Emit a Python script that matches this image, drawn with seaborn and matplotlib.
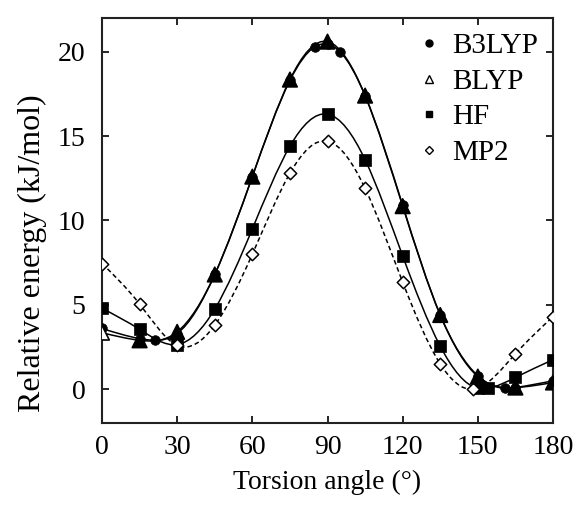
import numpy as np
import pandas as pd
import matplotlib
matplotlib.use("Agg")
import matplotlib.pyplot as plt
from matplotlib.path import Path
from matplotlib.patches import PathPatch
from matplotlib.lines import Line2D
import seaborn as sns

# ---- data ----
b3lyp_x = [0, 15, 21, 30, 45, 60, 75, 85, 90, 95, 105, 120, 135, 150, 161, 165, 180]
b3lyp_y = [3.6, 3.0, 2.9, 3.3, 6.8, 12.6, 18.3, 20.3, 20.45, 20.0, 17.4, 10.9, 4.4, 0.8, 0.05, 0.1, 0.5]

blyp_x = [0, 15, 30, 45, 60, 75, 90, 105, 120, 135, 150, 165, 180]
blyp_y = [3.35, 2.9, 3.4, 6.8, 12.6, 18.35, 20.6, 17.4, 10.85, 4.4, 0.75, 0.1, 0.4]

hf_x = [0, 15, 30, 45, 60, 75, 90, 105, 120, 135, 150, 154, 165, 180]
hf_y = [4.8, 3.55, 2.65, 4.75, 9.5, 14.4, 16.3, 13.6, 7.9, 2.55, 0.05, 0.05, 0.7, 1.75]

mp2_x = [0, 15, 30, 45, 60, 75, 90, 105, 120, 135, 148, 165, 180]
mp2_y = [7.45, 5.05, 2.6, 3.8, 8.0, 12.8, 14.7, 11.9, 6.35, 1.5, 0.0, 2.1, 4.3]

x_ticks = [0, 30, 60, 90, 120, 150, 180]
y_ticks = [0, 5, 10, 15, 20]
labels = ["B3LYP", "BLYP", "HF", "MP2"]

sns.set_theme(style="ticks")
plt.rcParams["font.family"] = ["Liberation Serif", "DejaVu Serif"]
for k in ["text.color", "axes.labelcolor", "xtick.color", "ytick.color", "axes.edgecolor"]:
    plt.rcParams[k] = "black"


def spline_path(xs, ys):
    """Natural cubic spline through the points, as Bezier segments (rendering only)."""
    x = np.asarray(xs, float)
    y = np.asarray(ys, float)
    n = len(x)
    h = np.diff(x)
    A = np.zeros((n, n))
    r = np.zeros(n)
    A[0, 0] = 1
    A[-1, -1] = 1
    for i in range(1, n - 1):
        A[i, i - 1] = h[i - 1]
        A[i, i] = 2 * (h[i - 1] + h[i])
        A[i, i + 1] = h[i]
        r[i] = 6 * ((y[i + 1] - y[i]) / h[i] - (y[i] - y[i - 1]) / h[i - 1])
    M = np.linalg.solve(A, r)
    m = np.zeros(n)
    for i in range(n - 1):
        m[i] = (y[i + 1] - y[i]) / h[i] - h[i] * (2 * M[i] + M[i + 1]) / 6
    m[-1] = (y[-1] - y[-2]) / h[-1] + h[-1] * (M[-2] + 2 * M[-1]) / 6
    verts = [(x[0], y[0])]
    codes = [Path.MOVETO]
    for i in range(n - 1):
        d = h[i] / 3
        verts += [(x[i] + d, y[i] + d * m[i]),
                  (x[i + 1] - d, y[i + 1] - d * m[i + 1]),
                  (x[i + 1], y[i + 1])]
        codes += [Path.CURVE4] * 3
    return Path(verts, codes)


fig = plt.figure(figsize=(5.77, 5.07), dpi=100)
ax = fig.add_axes([0.1768, 0.1657, 0.7816, 0.7988])

curves = [
    (b3lyp_x, b3lyp_y, "-"),
    (blyp_x, blyp_y, "-"),
    (hf_x, hf_y, "-"),
    (mp2_x, mp2_y, (0, (3, 2))),
]
for xs, ys, ls in curves:
    ax.add_patch(PathPatch(spline_path(xs, ys), facecolor="none", edgecolor="black",
                           lw=1.1, linestyle=ls, zorder=2))

df_b3 = pd.DataFrame({"x": b3lyp_x, "y": b3lyp_y})
df_bl = pd.DataFrame({"x": blyp_x, "y": blyp_y})
df_hf = pd.DataFrame({"x": hf_x, "y": hf_y})
df_mp = pd.DataFrame({"x": mp2_x, "y": mp2_y})

# open BLYP triangles look filled where a B3LYP dot sits inside them
b3_lookup = dict(zip(b3lyp_x, b3lyp_y))
blyp_face = ["black" if (xv in b3_lookup and abs(b3_lookup[xv] - yv) < 0.2) else "white"
             for xv, yv in zip(blyp_x, blyp_y)]

sns.scatterplot(data=df_b3, x="x", y="y", ax=ax, marker="o", s=48, color="black",
                edgecolor="black", linewidth=0.5, zorder=3, legend=False)
sns.scatterplot(data=df_bl, x="x", y="y", ax=ax, marker="^", s=110, c=blyp_face,
                edgecolor="black", linewidth=1.2, zorder=4, legend=False)
sns.scatterplot(data=df_hf, x="x", y="y", ax=ax, marker="s", s=65, color="black",
                edgecolor="black", linewidth=0.5, zorder=3, legend=False)
sns.scatterplot(data=df_mp, x="x", y="y", ax=ax, marker="D", s=40, facecolor="white",
                edgecolor="black", linewidth=1.1, zorder=3, legend=False)

ax.set_xlim(0, 180)
ax.set_ylim(-2, 22)
ax.set_xticks(x_ticks)
ax.set_yticks(y_ticks)
ax.set_xticklabels([str(t) for t in x_ticks])
ax.set_yticklabels([str(t) for t in y_ticks])
ax.tick_params(direction="in", length=5, width=1.2, top=True, right=True,
               labelsize=20, colors="black")
ax.tick_params(axis="y", pad=12)
ax.tick_params(axis="x", pad=9)
for s in ax.spines.values():
    s.set_linewidth(1.5)
    s.set_color("#222222")
    s.set_visible(True)

ax.set_xlabel("Torsion angle (°)", fontsize=20, labelpad=7)
ax.set_ylabel("Relative energy (kJ/mol)", fontsize=23)
ax.yaxis.set_label_coords(-0.123, 0.42)

handles = [
    Line2D([], [], ls="none", marker="o", ms=5, color="black"),
    Line2D([], [], ls="none", marker="^", ms=6, mfc="none", mec="black", mew=1.0),
    Line2D([], [], ls="none", marker="s", ms=5, color="black"),
    Line2D([], [], ls="none", marker="D", ms=4, mfc="white", mec="black", mew=1.0),
]
ax.legend(handles, labels, loc="upper right", frameon=False, fontsize=21,
          handlelength=0.8, handletextpad=0.4, labelspacing=0.32,
          borderaxespad=0.3, borderpad=0.2)

fig.savefig("out.png", dpi=100)
